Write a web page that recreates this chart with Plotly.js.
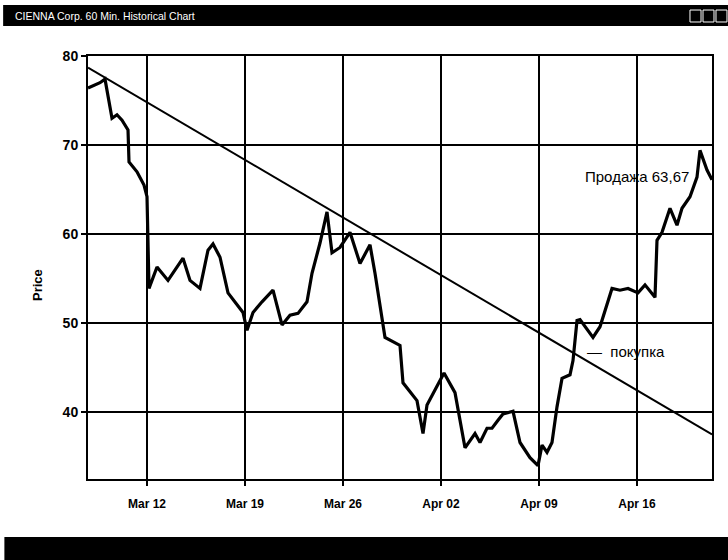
<!DOCTYPE html>
<html>
<head>
<meta charset="utf-8">
<script src="https://cdn.plot.ly/plotly-3.0.1.min.js"></script>
<style>html,body{margin:0;padding:0;background:#fff;}#chart{width:728px;height:560px;}</style>
</head>
<body>
<div id="chart"></div>
<script>
// Price series (60-min historical)
const times = [
 "2001-03-07 18:51","2001-03-08 15:26","2001-03-09 00:00","2001-03-09 12:00","2001-03-09 20:34",
 "2001-03-10 05:09","2001-03-10 15:26","2001-03-10 17:09","2001-03-11 06:51","2001-03-11 18:51",
 "2001-03-12 00:00","2001-03-12 03:26","2001-03-12 17:09","2001-03-13 12:00","2001-03-14 13:43",
 "2001-03-15 01:43","2001-03-15 18:51","2001-03-16 08:34","2001-03-16 17:09","2001-03-17 05:09",
 "2001-03-17 18:51","2001-03-18 06:51","2001-03-18 20:34","2001-03-19 03:26","2001-03-19 13:43",
 "2001-03-20 05:09","2001-03-21 00:00","2001-03-21 15:26","2001-03-22 05:09","2001-03-22 18:51",
 "2001-03-23 10:17","2001-03-23 18:51","2001-03-24 08:34","2001-03-24 20:34","2001-03-25 05:09",
 "2001-03-25 18:51","2001-03-26 12:00","2001-03-27 05:09","2001-03-27 22:17","2001-03-28 06:51",
 "2001-03-28 15:26","2001-03-29 00:00","2001-03-30 01:43","2001-03-30 06:51","2001-03-31 06:51",
 "2001-03-31 17:09","2001-04-01 00:00","2001-04-01 13:43","2001-04-02 05:09","2001-04-03 00:00",
 "2001-04-03 17:09","2001-04-04 10:17","2001-04-04 18:51","2001-04-05 06:51","2001-04-05 15:26",
 "2001-04-06 01:43","2001-04-06 10:17","2001-04-07 03:26","2001-04-07 15:26","2001-04-08 08:34",
 "2001-04-08 22:17","2001-04-09 05:09","2001-04-09 13:43","2001-04-09 22:17","2001-04-10 06:51",
 "2001-04-10 15:26","2001-04-11 05:09","2001-04-11 10:17","2001-04-11 17:09","2001-04-11 22:17",
 "2001-04-12 20:34","2001-04-13 08:34","2001-04-14 05:09","2001-04-14 18:51","2001-04-15 08:34",
 "2001-04-16 01:43","2001-04-16 13:43","2001-04-17 06:51","2001-04-17 10:17","2001-04-17 18:51",
 "2001-04-18 08:34","2001-04-18 20:34","2001-04-19 05:09","2001-04-19 18:51","2001-04-20 06:51",
 "2001-04-20 12:00","2001-04-21 00:00","2001-04-21 08:34"
];
const prices = [
 76.4,77.0,77.4,73.0,73.4,72.8,71.7,68.1,67.0,65.5,
 64.2,53.9,56.3,54.8,57.3,54.8,53.9,58.2,58.9,57.4,
 53.4,52.4,51.2,49.2,51.2,52.4,53.7,49.8,50.9,51.1,
 52.4,55.6,59.0,62.5,57.9,58.5,60.2,56.7,58.8,55.6,
 52.2,48.4,47.5,43.3,41.3,37.6,40.8,42.5,44.4,42.2,
 36.0,37.6,36.6,38.2,38.2,39.1,39.8,40.1,36.6,34.9,
 34.0,36.3,35.5,36.6,40.6,43.8,44.2,45.8,50.3,50.4,
 48.4,49.6,53.9,53.7,53.9,53.4,54.3,52.9,59.3,60.2,
 62.9,61.0,62.9,64.2,66.4,69.4,67.2,66.1
];
// Downward trend line
const trendTimes = ["2001-03-07 18:51","2001-04-21 08:34"];
const trendPrices = [78.7, 37.5];

// Axis ticks
const xTickVals = ["2001-03-12","2001-03-19","2001-03-26","2001-04-02","2001-04-09","2001-04-16"];
const xTickText = ["Mar 12","Mar 19","Mar 26","Apr 02","Apr 09","Apr 16"];
const yTickVals = [40,50,60,70,80];
const yTickText = ["40","50","60","70","80"];

const chartTitle = "CIENNA Corp. 60 Min. Historical Chart";
const yTitle = "Price";
const sellLabel = "Продажа 63,67";
const buyLabel = "—  покупка";

const fam = "Arial, 'Liberation Sans', sans-serif";

const data = [
  {x: times, y: prices, type:"scatter", mode:"lines",
   line:{color:"#000", width:3.2}, hoverinfo:"x+y"},
  {x: trendTimes, y: trendPrices, type:"scatter", mode:"lines",
   line:{color:"#000", width:2}, hoverinfo:"skip"}
];

const iconBox = (x0, x1) => ({type:"rect", xref:"paper", yref:"paper", x0:x0, x1:x1, y0:1.0804, y1:1.1087,
     fillcolor:"rgba(0,0,0,0)", line:{color:"#fff", width:1}});

const layout = {
  width:728, height:560,
  margin:{l:88, r:16, t:56, b:81},
  paper_bgcolor:"#fff", plot_bgcolor:"#fff",
  showlegend:false,
  xaxis:{
    type:"date",
    range:["2001-03-07 18:51","2001-04-21 08:34"],
    tickvals:xTickVals, ticktext:xTickText,
    tickfont:{family:fam, size:12, color:"#000", weight:"bold"},
    ticklabelstandoff:8,
    showgrid:true, gridcolor:"#000", gridwidth:1.8,
    showline:true, linecolor:"#000", linewidth:2, mirror:true,
    ticks:"outside", ticklen:5, tickwidth:1.5, tickcolor:"#000",
    zeroline:false, fixedrange:true
  },
  yaxis:{
    range:[32.5, 80],
    tickvals:yTickVals, ticktext:yTickText,
    tickfont:{family:fam, size:14, color:"#000", weight:"bold"},
    showgrid:true, gridcolor:"#000", gridwidth:1.8,
    showline:true, linecolor:"#000", linewidth:2, mirror:true,
    ticks:"outside", ticklen:5, tickwidth:1.5, tickcolor:"#000",
    zeroline:false, fixedrange:true
  },
  shapes:[
    {type:"rect", xref:"paper", yref:"paper", x0:-0.136, x1:1.03, y0:1.0709, y1:1.1206,
     fillcolor:"#000", line:{width:0}},
    {type:"rect", xref:"paper", yref:"paper", x0:-0.134, x1:1.03, y0:-0.1915, y1:-0.1371,
     fillcolor:"#000", line:{width:0}},
    iconBox(0.9647, 0.9824),
    iconBox(0.9856, 1.0032),
    iconBox(1.0064, 1.0240)
  ],
  annotations:[
    {text:chartTitle, xref:"paper", yref:"paper", x:-0.1202, y:1.0946,
     xanchor:"left", yanchor:"middle", showarrow:false,
     font:{family:fam, size:10.5, color:"#fff"}},
    {text:yTitle, xref:"paper", yref:"paper", x:-0.0817, y:0.4586, textangle:-90,
     xanchor:"center", yanchor:"middle", showarrow:false,
     font:{family:fam, size:13, color:"#000", weight:"bold"}},
    {text:sellLabel, xref:"x", yref:"y", x:"2001-04-12 03:26", y:66.5,
     xanchor:"left", yanchor:"middle", showarrow:false,
     font:{family:fam, size:15, color:"#000"}},
    {text:buyLabel, xref:"x", yref:"y", x:"2001-04-12 06:51", y:46.85,
     xanchor:"left", yanchor:"middle", showarrow:false,
     font:{family:fam, size:15, color:"#000"}}
  ]
};

Plotly.newPlot("chart", data, layout, {displayModeBar:false, staticPlot:true});
</script>
</body>
</html>
